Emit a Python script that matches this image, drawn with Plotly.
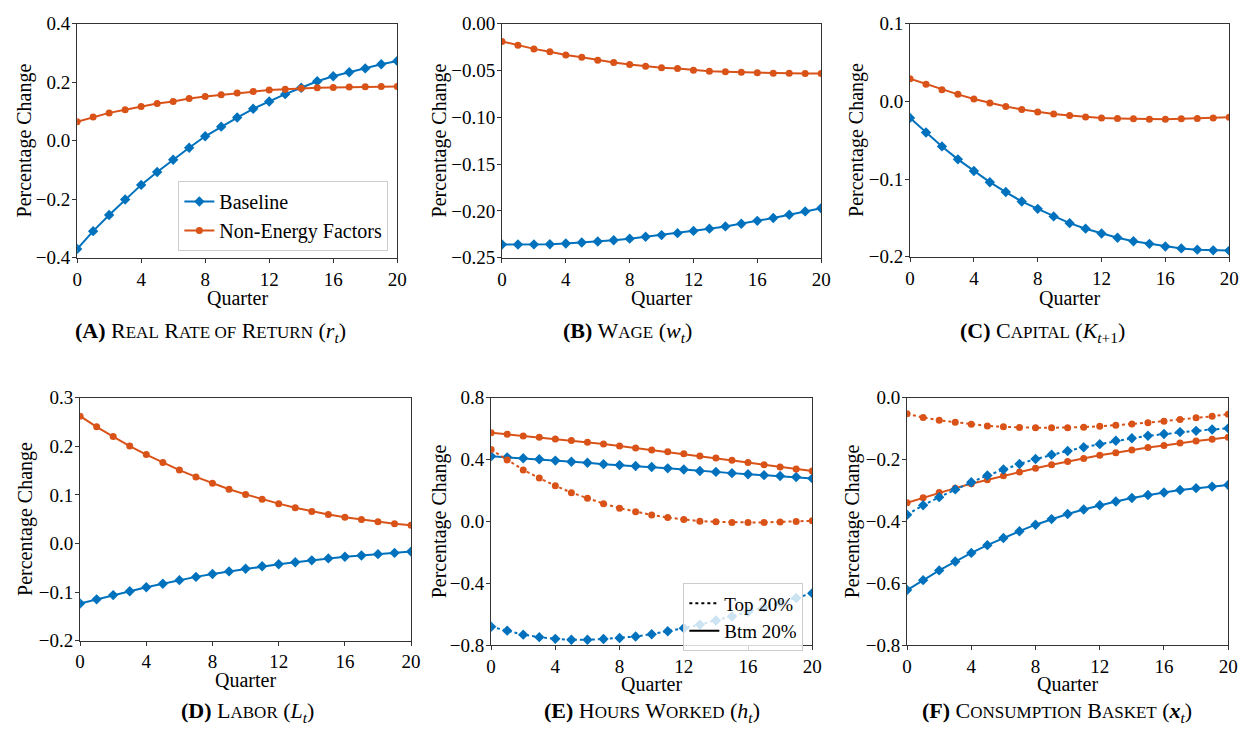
import plotly.graph_objects as go

quarters = list(range(21))

# Panel A: real rate of return
a_base = [-0.370, -0.309, -0.254, -0.201, -0.151, -0.107, -0.065, -0.024, 0.015, 0.048, 0.079,
          0.109, 0.134, 0.159, 0.181, 0.203, 0.220, 0.234, 0.247, 0.261, 0.272]
a_nonen = [0.065, 0.081, 0.095, 0.106, 0.117, 0.127, 0.134, 0.144, 0.151, 0.157, 0.163,
           0.168, 0.173, 0.176, 0.179, 0.181, 0.182, 0.183, 0.184, 0.185, 0.185]
# Panel B: wage
b_base = [-0.2358, -0.2358, -0.2357, -0.2355, -0.2348, -0.2337, -0.2327, -0.2313, -0.2296, -0.2275, -0.2258,
          -0.2237, -0.2213, -0.2189, -0.2165, -0.2137, -0.2106, -0.2075, -0.2040, -0.2005, -0.1971]
b_nonen = [-0.019, -0.023, -0.027, -0.030, -0.0335, -0.036, -0.039, -0.0415, -0.0436, -0.0456, -0.047,
           -0.048, -0.0498, -0.0508, -0.0515, -0.052, -0.0526, -0.053, -0.053, -0.0532, -0.0532]
# Panel C: capital
c_base = [-0.0213, -0.040, -0.058, -0.0746, -0.0896, -0.104, -0.1167, -0.1288, -0.1383, -0.148, -0.1567,
          -0.1638, -0.170, -0.1754, -0.180, -0.1833, -0.1867, -0.1892, -0.1908, -0.1917, -0.192]
c_nonen = [0.029, 0.022, 0.015, 0.009, 0.003, -0.002, -0.0067, -0.0104, -0.0138, -0.0163, -0.0183,
           -0.020, -0.0213, -0.022, -0.0225, -0.023, -0.023, -0.0225, -0.022, -0.0213, -0.0204]
# Panel D: labor
d_base = [-0.1237, -0.115, -0.1063, -0.0983, -0.090, -0.083, -0.0755, -0.0688, -0.0628, -0.0575, -0.052,
          -0.0468, -0.0428, -0.0388, -0.0348, -0.0307, -0.0274, -0.0247, -0.022, -0.0194, -0.0167]
d_nonen = [0.262, 0.240, 0.220, 0.2005, 0.183, 0.1665, 0.151, 0.137, 0.124, 0.1116, 0.101,
           0.091, 0.082, 0.0735, 0.066, 0.0595, 0.054, 0.0495, 0.0448, 0.0408, 0.0374]
# Panel E: hours worked (top 20% / bottom 20%)
e_base_top = [-0.679, -0.704, -0.730, -0.746, -0.757, -0.763, -0.763, -0.758, -0.752, -0.742, -0.727,
              -0.708, -0.688, -0.665, -0.639, -0.612, -0.583, -0.554, -0.525, -0.493, -0.462]
e_base_btm = [0.4215, 0.415, 0.409, 0.403, 0.394, 0.386, 0.380, 0.371, 0.365, 0.359, 0.3525,
              0.344, 0.336, 0.327, 0.321, 0.313, 0.306, 0.300, 0.294, 0.288, 0.279]
e_nonen_top = [0.465, 0.398, 0.334, 0.281, 0.231, 0.187, 0.150, 0.116, 0.087, 0.064, 0.043,
               0.026, 0.0136, 0.003, -0.001, -0.005, -0.005, -0.005, -0.003, 0.001, 0.005]
e_nonen_btm = [0.574, 0.564, 0.553, 0.545, 0.533, 0.524, 0.513, 0.501, 0.488, 0.475, 0.463,
               0.451, 0.438, 0.424, 0.411, 0.396, 0.382, 0.367, 0.353, 0.339, 0.327]
# Panel F: consumption basket
f_base_top = [-0.378, -0.347, -0.321, -0.296, -0.273, -0.251, -0.232, -0.214, -0.198, -0.184, -0.172,
              -0.160, -0.150, -0.139, -0.131, -0.123, -0.117, -0.111, -0.107, -0.1025, -0.099]
f_base_btm = [-0.621, -0.589, -0.5575, -0.529, -0.501, -0.476, -0.453, -0.431, -0.410, -0.392, -0.3755,
              -0.361, -0.347, -0.335, -0.324, -0.314, -0.306, -0.298, -0.292, -0.287, -0.282]
f_nonen_top = [-0.052, -0.064, -0.073, -0.0795, -0.086, -0.091, -0.094, -0.096, -0.097, -0.097, -0.097,
               -0.095, -0.092, -0.089, -0.085, -0.0805, -0.076, -0.070, -0.065, -0.060, -0.053]
f_nonen_btm = [-0.339, -0.323, -0.306, -0.292, -0.278, -0.265, -0.252, -0.240, -0.228, -0.2165, -0.206,
               -0.196, -0.186, -0.178, -0.169, -0.161, -0.154, -0.146, -0.140, -0.134, -0.128]

x_ticks = [0, 4, 8, 12, 16, 20]
y_ticks = {
    1: [-0.4, -0.2, 0.0, 0.2, 0.4],
    2: [-0.25, -0.20, -0.15, -0.10, -0.05, 0.00],
    3: [-0.2, -0.1, 0.0, 0.1],
    4: [-0.2, -0.1, 0.0, 0.1, 0.2, 0.3],
    5: [-0.8, -0.4, 0.0, 0.4, 0.8],
    6: [-0.8, -0.6, -0.4, -0.2, 0.0],
}
y_fmt = {1: ".1f", 2: ".2f", 3: ".1f", 4: ".1f", 5: ".1f", 6: ".1f"}

SC = "<span style='font-size:17px'>"
captions = [
    f"<b>(A)</b> R{SC}EAL</span> R{SC}ATE OF</span> R{SC}ETURN</span> (<i>r<sub>t</sub></i>)",
    f"<b>(B)</b> W{SC}AGE</span> (<i>w<sub>t</sub></i>)",
    f"<b>(C)</b> C{SC}APITAL</span> (<i>K</i><sub><i>t</i>+1</sub>)",
    f"<b>(D)</b> L{SC}ABOR</span> (<i>L<sub>t</sub></i>)",
    f"<b>(E)</b> H{SC}OURS</span> W{SC}ORKED</span> (<i>h<sub>t</sub></i>)",
    f"<b>(F)</b> C{SC}ONSUMPTION</span> B{SC}ASKET</span> (<b><i>x</i></b><sub><i>t</i></sub>)",
]

BLUE = "#0072BD"
ORANGE = "#D95319"
W, H = 1255, 742
FONT = "Liberation Serif"

# pixel boxes: (left, right, top, bottom)
boxes = {
    1: (73, 397, 14, 255),
    2: (503, 826, 14, 255),
    3: (916, 1239, 14, 254),
    4: (76, 411, 399, 649),
    5: (492, 817, 399, 654),
    6: (913, 1238, 399, 654),
}
caption_pos = {1: (208, 331), 2: (630, 331), 3: (1050, 331), 4: (245, 722), 5: (655, 722), 6: (1065, 722)}
ytitle_x = {1: 20, 2: 440, 3: 861, 4: 20, 5: 440, 6: 858}
xtitle_dy = {1: 41, 2: 41, 3: 42, 4: 41, 5: 40, 6: 40}

fig = go.Figure()

def add(panel, y, color, symbol, dash="solid", name=None, legend=None, show=False):
    ax = "" if panel == 1 else str(panel)
    fig.add_trace(go.Scatter(
        x=quarters, y=y, mode="lines+markers",
        line=dict(color=color, width=2, dash=dash),
        marker=dict(color=color, symbol=symbol, size=8 if symbol == "diamond" else 7),
        xaxis="x" + ax, yaxis="y" + ax,
        name=name, showlegend=show, legend=legend or "legend",
    ))

add(1, a_base, BLUE, "diamond", name="Baseline", show=True)
add(1, a_nonen, ORANGE, "circle", name="Non-Energy Factors", show=True)
add(2, b_base, BLUE, "diamond")
add(2, b_nonen, ORANGE, "circle")
add(3, c_base, BLUE, "diamond")
add(3, c_nonen, ORANGE, "circle")
add(4, d_base, BLUE, "diamond")
add(4, d_nonen, ORANGE, "circle")
add(5, e_base_btm, BLUE, "diamond")
add(5, e_nonen_btm, ORANGE, "circle")
add(5, e_base_top, BLUE, "diamond", dash="dot")
add(5, e_nonen_top, ORANGE, "circle", dash="dot")
add(6, f_base_btm, BLUE, "diamond")
add(6, f_nonen_btm, ORANGE, "circle")
add(6, f_base_top, BLUE, "diamond", dash="dot")
add(6, f_nonen_top, ORANGE, "circle", dash="dot")

# legend-only entries for panel E
for nm, ds in [("Top 20%", "dot"), ("Btm 20%", "solid")]:
    fig.add_trace(go.Scatter(x=[None], y=[None], mode="lines", name=nm,
                             line=dict(color="black", width=2, dash=ds),
                             xaxis="x5", yaxis="y5", legend="legend2", showlegend=True))

layout = dict(
    width=W, height=H, margin=dict(l=0, r=0, t=0, b=0),
    paper_bgcolor="white", plot_bgcolor="white",
    font=dict(family=FONT, size=19, color="black"),
    legend=dict(x=388 / W, xanchor="right", y=1 - 248 / H, yanchor="bottom",
                bgcolor="rgba(255,255,255,0.8)", bordercolor="#cccccc", borderwidth=1,
                font=dict(family=FONT, size=20, color="black"), tracegroupgap=0),
    legend2=dict(x=808 / W, xanchor="right", y=1 - 660 / H, yanchor="bottom",
                 bgcolor="rgba(255,255,255,0.8)", bordercolor="#cccccc", borderwidth=1,
                 font=dict(family=FONT, size=19, color="black")),
)

annotations = []
for p in range(1, 7):
    l, r, t, b = boxes[p]
    ax = "" if p == 1 else str(p)
    common = dict(showline=True, linecolor="#333333", linewidth=1, mirror=True,
                  ticks="outside", ticklen=4, tickcolor="#333333", showgrid=False, zeroline=False,
                  tickfont=dict(family=FONT, size=19, color="black"))
    layout["xaxis" + ax] = dict(domain=[l / W, r / W], anchor="y" + ax, range=[0, 20],
                                tickvals=x_ticks, **common)
    yt = y_ticks[p]
    layout["yaxis" + ax] = dict(domain=[1 - b / H, 1 - t / H], anchor="x" + ax,
                                range=[yt[0], yt[-1]], tickvals=yt, tickformat=y_fmt[p],
                                ticklabelstandoff=-2, **common)
    # axis titles
    annotations.append(dict(text="Quarter", x=(l + r) / 2 / W, y=1 - (b + xtitle_dy[p]) / H,
                            xref="paper", yref="paper", showarrow=False, xanchor="center",
                            yanchor="middle", font=dict(family=FONT, size=20, color="black")))
    annotations.append(dict(text="Percentage Change", x=ytitle_x[p] / W, y=1 - (t + b) / 2 / H,
                            xref="paper", yref="paper", showarrow=False, textangle=-90,
                            xanchor="center", yanchor="middle",
                            font=dict(family=FONT, size=20, color="black")))
    cx, cy = caption_pos[p]
    annotations.append(dict(text=captions[p - 1], x=cx / W, y=1 - cy / H, xref="paper", yref="paper",
                            showarrow=False, xanchor="center", yanchor="middle",
                            font=dict(family=FONT, size=22, color="black")))

layout["annotations"] = annotations
fig.update_layout(**layout)
fig.write_html("out.html")
